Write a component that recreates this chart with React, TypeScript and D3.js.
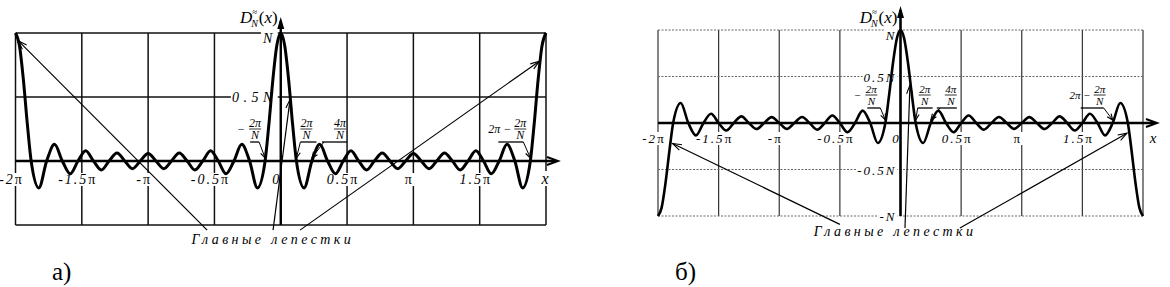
import React, { useEffect, useRef } from 'react';
import * as d3 from 'd3';

const W = 1170;
const H = 287;
const SERIF = '"Liberation Serif", "Times New Roman", serif';

// x in units of π, y in units of N
// panel а) — odd N (17 lobes per period)
const oddX = [
  -2, -1.97, -1.941, -1.91,
  -1.882, -1.824, -1.765, -1.706, -1.647, -1.588, -1.529, -1.471, -1.412, -1.353, -1.294,
  -1.235, -1.176, -1.118, -1.059, -1, -0.941, -0.882, -0.824, -0.765, -0.706,
  -0.647, -0.588, -0.529, -0.471, -0.412, -0.353, -0.294, -0.235, -0.176, -0.118,
  -0.09, -0.059, -0.03, 0, 0.03, 0.059, 0.09,
  0.118, 0.176, 0.235, 0.294, 0.353, 0.412, 0.471, 0.529, 0.588, 0.647,
  0.706, 0.765, 0.824, 0.882, 0.941, 1, 1.059, 1.118, 1.176, 1.235,
  1.294, 1.353, 1.412, 1.471, 1.529, 1.588, 1.647, 1.706, 1.765, 1.824, 1.882,
  1.91, 1.941, 1.97, 2,
];
const oddY = [
  1, 0.9, 0.64, 0.28,
  0, -0.21, 0, 0.13, 0, -0.1, 0, 0.08, 0, -0.07, 0,
  0.063, 0, -0.06, 0, 0.059, 0, -0.06, 0, 0.063, 0,
  -0.07, 0, 0.08, 0, -0.1, 0, 0.13, 0, -0.21, 0,
  0.28, 0.64, 0.9, 1, 0.9, 0.64, 0.28,
  0, -0.21, 0, 0.13, 0, -0.1, 0, 0.08, 0, -0.07,
  0, 0.063, 0, -0.06, 0, 0.059, 0, -0.06, 0, 0.063,
  0, -0.07, 0, 0.08, 0, -0.1, 0, 0.13, 0, -0.21, 0,
  0.28, 0.64, 0.9, 1,
];

// panel б) — even N (16)
const evenX = [
  -2, -1.97, -1.9375, -1.905,
  -1.875, -1.8125, -1.75, -1.6875, -1.625, -1.5625, -1.5, -1.4375, -1.375, -1.3125, -1.25,
  -1.1875, -1.125, -1.0625, -1, -0.9375, -0.875, -0.8125, -0.75, -0.6875, -0.625,
  -0.5625, -0.5, -0.4375, -0.375, -0.3125, -0.25, -0.1875, -0.125,
  -0.095, -0.0625, -0.03, 0, 0.03, 0.0625, 0.095,
  0.125, 0.1875, 0.25, 0.3125, 0.375, 0.4375, 0.5, 0.5625,
  0.625, 0.6875, 0.75, 0.8125, 0.875, 0.9375, 1, 1.0625, 1.125, 1.1875,
  1.25, 1.3125, 1.375, 1.4375, 1.5, 1.5625, 1.625, 1.6875, 1.75, 1.8125, 1.875,
  1.905, 1.9375, 1.97, 2,
];
const evenY = [
  -1, -0.91, -0.64, -0.29,
  0, 0.215, 0, -0.133, 0, 0.099, 0, -0.081, 0, 0.071, 0,
  -0.065, 0, 0.063, 0, -0.063, 0, 0.065, 0, -0.071, 0,
  0.081, 0, -0.099, 0, 0.133, 0, -0.215, 0,
  0.29, 0.64, 0.91, 1, 0.91, 0.64, 0.29,
  0, -0.215, 0, 0.133, 0, -0.099, 0, 0.081,
  0, -0.071, 0, 0.065, 0, -0.063, 0, 0.063, 0, -0.065,
  0, 0.071, 0, -0.081, 0, 0.099, 0, -0.133, 0, 0.215, 0,
  -0.29, -0.64, -0.91, -1,
];

const gridX = [-2, -1.5, -1, -0.5, 0, 0.5, 1, 1.5, 2];
const tickX = [-2, -1.5, -1, -0.5, 0, 0.5, 1, 1.5];
const tickNum = ['-2', '-1.5', '-', '-0.5', '0', '0.5', '', '1.5'];

const oddYTicks = [1, 0.5];
const oddYNames = ['N', '0.5N'];
const evenYTicks = [1, 0.5, -0.5, -1];
const evenYNames = ['N', '0.5N', '-0.5N', '-N'];

const lobeText = 'Главные лепестки';

function arrowHead(g: any, x1: number, y1: number, x2: number, y2: number, len: number, half: number, filled: boolean, sw = 1.2) {
  const a = Math.atan2(y2 - y1, x2 - x1);
  const bx = x2 - len * Math.cos(a), by = y2 - len * Math.sin(a);
  const nx = -Math.sin(a) * half, ny = Math.cos(a) * half;
  if (filled) {
    g.append('path')
      .attr('d', `M${bx + nx},${by + ny}L${x2},${y2}L${bx - nx},${by - ny}Z`)
      .attr('fill', '#000');
  } else {
    g.append('polyline')
      .attr('points', `${bx + nx},${by + ny} ${x2},${y2} ${bx - nx},${by - ny}`)
      .attr('fill', 'none').attr('stroke', '#000').attr('stroke-width', sw);
  }
}

// text with the serif face set on the element itself
function txt(g: any, x: number, y: number, size: number, anchor = 'start', italic = false) {
  return g.append('text').attr('x', x).attr('y', y)
    .attr('text-anchor', anchor)
    .style('font-family', SERIF)
    .style('font-size', `${size}px`)
    .style('font-style', italic ? 'italic' : 'normal');
}

function drawPanel(svg: any, p: any) {
  const x = d3.scaleLinear().domain([-2, 2]).range(p.xRange);
  const y = d3.scaleLinear().domain(p.yDomain).range(p.yRange);
  const y0 = y(0), xc = x(0);
  const top = y(p.yDomain[1]), bottom = y(p.yDomain[0]);

  const grid = svg.append('g');
  const bg = svg.append('g');
  const labels = svg.append('g');
  const axes = svg.append('g');
  const plot = svg.append('g');
  const notes = svg.append('g');

  // grid
  grid.selectAll('.v').data(gridX).enter().append('line')
    .attr('x1', d => x(d)).attr('x2', d => x(d)).attr('y1', top).attr('y2', bottom)
    .attr('stroke', p.vGridColor).attr('stroke-width', p.gridWidth);
  grid.selectAll('.h').data(p.hGrid).enter().append('line')
    .attr('x1', x(-2)).attr('x2', x(2)).attr('y1', d => y(d)).attr('y2', d => y(d))
    .attr('stroke', p.hGridColor).attr('stroke-width', p.gridWidth).attr('stroke-dasharray', p.gridDash);

  const masked: any[] = [];

  // x tick labels
  tickX.forEach((v, i) => {
    const t = txt(labels, x(v) - 4, y0 + p.tickDy, p.tickSize, 'middle').attr('letter-spacing', p.tickSpacing);
    t.append('tspan').style('font-style', 'italic').text(tickNum[i]);
    if (tickNum[i] !== '0') t.append('tspan').text('π');
    masked.push(t);
  });
  masked.push(txt(labels, x(2) + p.xLabelDx, y0 + p.tickDy, p.tickSize + 2, 'middle', true).text('x'));

  // y tick labels
  p.yTicks.forEach((v: number, i: number) => {
    const t = txt(labels, xc - 4, v === 1 ? y(v) + 10 : y(v) + 5, p.yLabSize, 'end', true)
      .attr('letter-spacing', p.yLabSpacing).text(p.yNames[i]);
    masked.push(t);
  });

  masked.forEach(t => {
    const b = t.node().getBBox();
    bg.append('rect').attr('x', b.x - 1).attr('y', b.y + 1).attr('width', b.width + 2).attr('height', b.height - 2).attr('fill', '#fff');
  });

  // function label
  const fl = txt(labels, xc - 3, 23, 17, 'end');
  fl.append('tspan').style('font-style', 'italic').text('D');
  fl.append('tspan').style('font-size', '9px').attr('dy', -8).text('≈');
  fl.append('tspan').style('font-size', '10px').style('font-style', 'italic').attr('dx', -6).attr('dy', 12).text('N');
  fl.append('tspan').attr('dy', -4).attr('dx', 1).text('(');
  fl.append('tspan').style('font-style', 'italic').text('x');
  fl.append('tspan').text(')');

  // axes
  axes.append('line').attr('x1', x(-2)).attr('x2', p.xTip - 3).attr('y1', y0).attr('y2', y0)
    .attr('stroke', '#000').attr('stroke-width', p.axisWidth);
  arrowHead(axes, x(-2), y0, p.xTip, y0, 11, 4, false, 2);
  axes.append('line').attr('x1', xc).attr('x2', xc).attr('y1', bottom).attr('y2', p.yTip + 4)
    .attr('stroke', '#000').attr('stroke-width', p.axisWidth);
  arrowHead(axes, xc, bottom, xc, p.yTip, 12, 3.5, true);

  // curve
  const pts = d3.zip(p.xs, p.ys) as [number, number][];
  const line = d3.line<[number, number]>().x(d => x(d[0])).y(d => y(d[1])).curve(d3.curveMonotoneX);
  plot.append('path').datum(pts).attr('d', line).attr('fill', 'none')
    .attr('stroke', '#000').attr('stroke-width', p.curveWidth).attr('stroke-linejoin', 'round');

  // zero annotations
  p.notes.forEach((n: any) => {
    const tx = x(n.at), ty = y0 - 3;
    const barY = ty + p.barDy, ulY = ty + p.ulDy;
    const fx = tx + n.fdx;
    txt(notes, fx, barY - 2, p.fracSize, 'middle', true).text(n.num);
    notes.append('line').attr('x1', fx - 6).attr('x2', fx + 6).attr('y1', barY).attr('y2', barY)
      .attr('stroke', '#000').attr('stroke-width', 0.8);
    txt(notes, fx, barY + 10, p.fracSize, 'middle', true).text('N');
    if (n.minus) txt(notes, fx - 14, barY + 4, p.fracSize, 'middle').text('−');
    if (n.prefix) txt(notes, fx - 9, barY + 4, p.fracSize, 'end', true).text(n.prefix);
    notes.append('line').attr('x1', tx + n.ul[0]).attr('x2', tx + n.ul[1]).attr('y1', ulY).attr('y2', ulY)
      .attr('stroke', '#000').attr('stroke-width', 1.3);
    notes.append('line').attr('x1', tx + n.from).attr('y1', ulY).attr('x2', tx).attr('y2', ty)
      .attr('stroke', '#000').attr('stroke-width', 1);
    arrowHead(notes, tx + n.from, ulY, tx, ty, 6, 2.5, false, 1.1);
  });

  // main lobes pointers
  p.pointers.forEach((q: any) => {
    const x1 = x(q.from[0]), y1 = y(q.from[1]), x2 = x(q.to[0]), y2 = y(q.to[1]);
    notes.append('line').attr('x1', x1).attr('y1', y1).attr('x2', x2).attr('y2', y2)
      .attr('stroke', '#000').attr('stroke-width', 1.2);
    arrowHead(notes, x1, y1, x2, y2, 9, 3, false, 1.1);
  });
  txt(notes, x(p.lobeAt[0]), y(p.lobeAt[1]), 14, 'middle', true)
    .attr('letter-spacing', 3.4).text(lobeText);

  // panel caption
  txt(svg, p.caption[0], p.caption[1], 25).text(p.captionText);
}

export default function App() {
  const ref = useRef<SVGSVGElement | null>(null);

  useEffect(() => {
    if (!ref.current) return;
    const svg = d3.select(ref.current);
    svg.selectAll('*').remove();

    drawPanel(svg, {
      xs: oddX, ys: oddY,
      xRange: [15.5, 546], yDomain: [-0.5, 1], yRange: [225, 33],
      hGrid: [1, 0.5, -0.5], vGridColor: '#111', hGridColor: '#111', gridWidth: 1.5, gridDash: null,
      tickDy: 23, tickSize: 14, tickSpacing: 2, xLabelDx: -1,
      yTicks: oddYTicks, yNames: oddYNames, yLabSize: 14, yLabSpacing: 4.5,
      axisWidth: 2.4, curveWidth: 3, xTip: 558, yTip: 17,
      barDy: -29, ulDy: -16, fracSize: 12,
      notes: [
        { at: -0.118, num: '2π', minus: true, fdx: -10, ul: [-15, -6], from: -6 },
        { at: 0.118, num: '2π', fdx: 10, ul: [4, 20], from: 4 },
        { at: 0.235, num: '4π', fdx: 28, ul: [10, 35], from: 12 },
        { at: 1.882, num: '2π', prefix: '2π −', fdx: -10, ul: [-32, -7], from: -7 },
      ],
      pointers: [
        { from: [-0.555, -0.54], to: [-1.98, 0.94] },
        { from: [-0.058, -0.54], to: [0.07, 0.48] },
        { from: [0.145, -0.54], to: [1.95, 0.78] },
      ],
      lobeAt: [-0.06, -0.65],
      caption: [52, 280], captionText: 'а)',
    });

    drawPanel(svg, {
      xs: evenX, ys: evenY,
      xRange: [658, 1143], yDomain: [-1, 1], yRange: [216, 30],
      hGrid: [1, 0.5, -0.5, -1], vGridColor: '#333', hGridColor: '#666', gridWidth: 1.2, gridDash: '2,1.5',
      tickDy: 20, tickSize: 13, tickSpacing: 2, xLabelDx: 10,
      yTicks: evenYTicks, yNames: evenYNames, yLabSize: 13, yLabSpacing: 2,
      axisWidth: 2.6, curveWidth: 2.6, xTip: 1157, yTip: 6,
      barDy: -25, ulDy: -12, fracSize: 11,
      notes: [
        { at: -0.125, num: '2π', minus: true, fdx: -14, ul: [-18, -5], from: -5 },
        { at: 0.125, num: '2π', fdx: 9, ul: [2, 17], from: 2 },
        { at: 0.25, num: '4π', fdx: 20, ul: [6, 26], from: 9 },
        { at: 1.75, num: '2π', prefix: '2π −', fdx: -13, ul: [-32, -9], from: -9 },
      ],
      pointers: [
        { from: [-0.5, -1.09], to: [-1.88, -0.22] },
        { from: [0.037, -1.13], to: [0.078, 0.41] },
        { from: [0.49, -1.13], to: [1.868, -0.11] },
      ],
      lobeAt: [-0.045, -1.215],
      caption: [675, 280], captionText: 'б)',
    });
  }, []);

  return (
    <svg ref={ref} width={W} height={H}
      style={{ position: 'absolute', left: 0, top: 0, background: '#fff' }} />
  );
}
